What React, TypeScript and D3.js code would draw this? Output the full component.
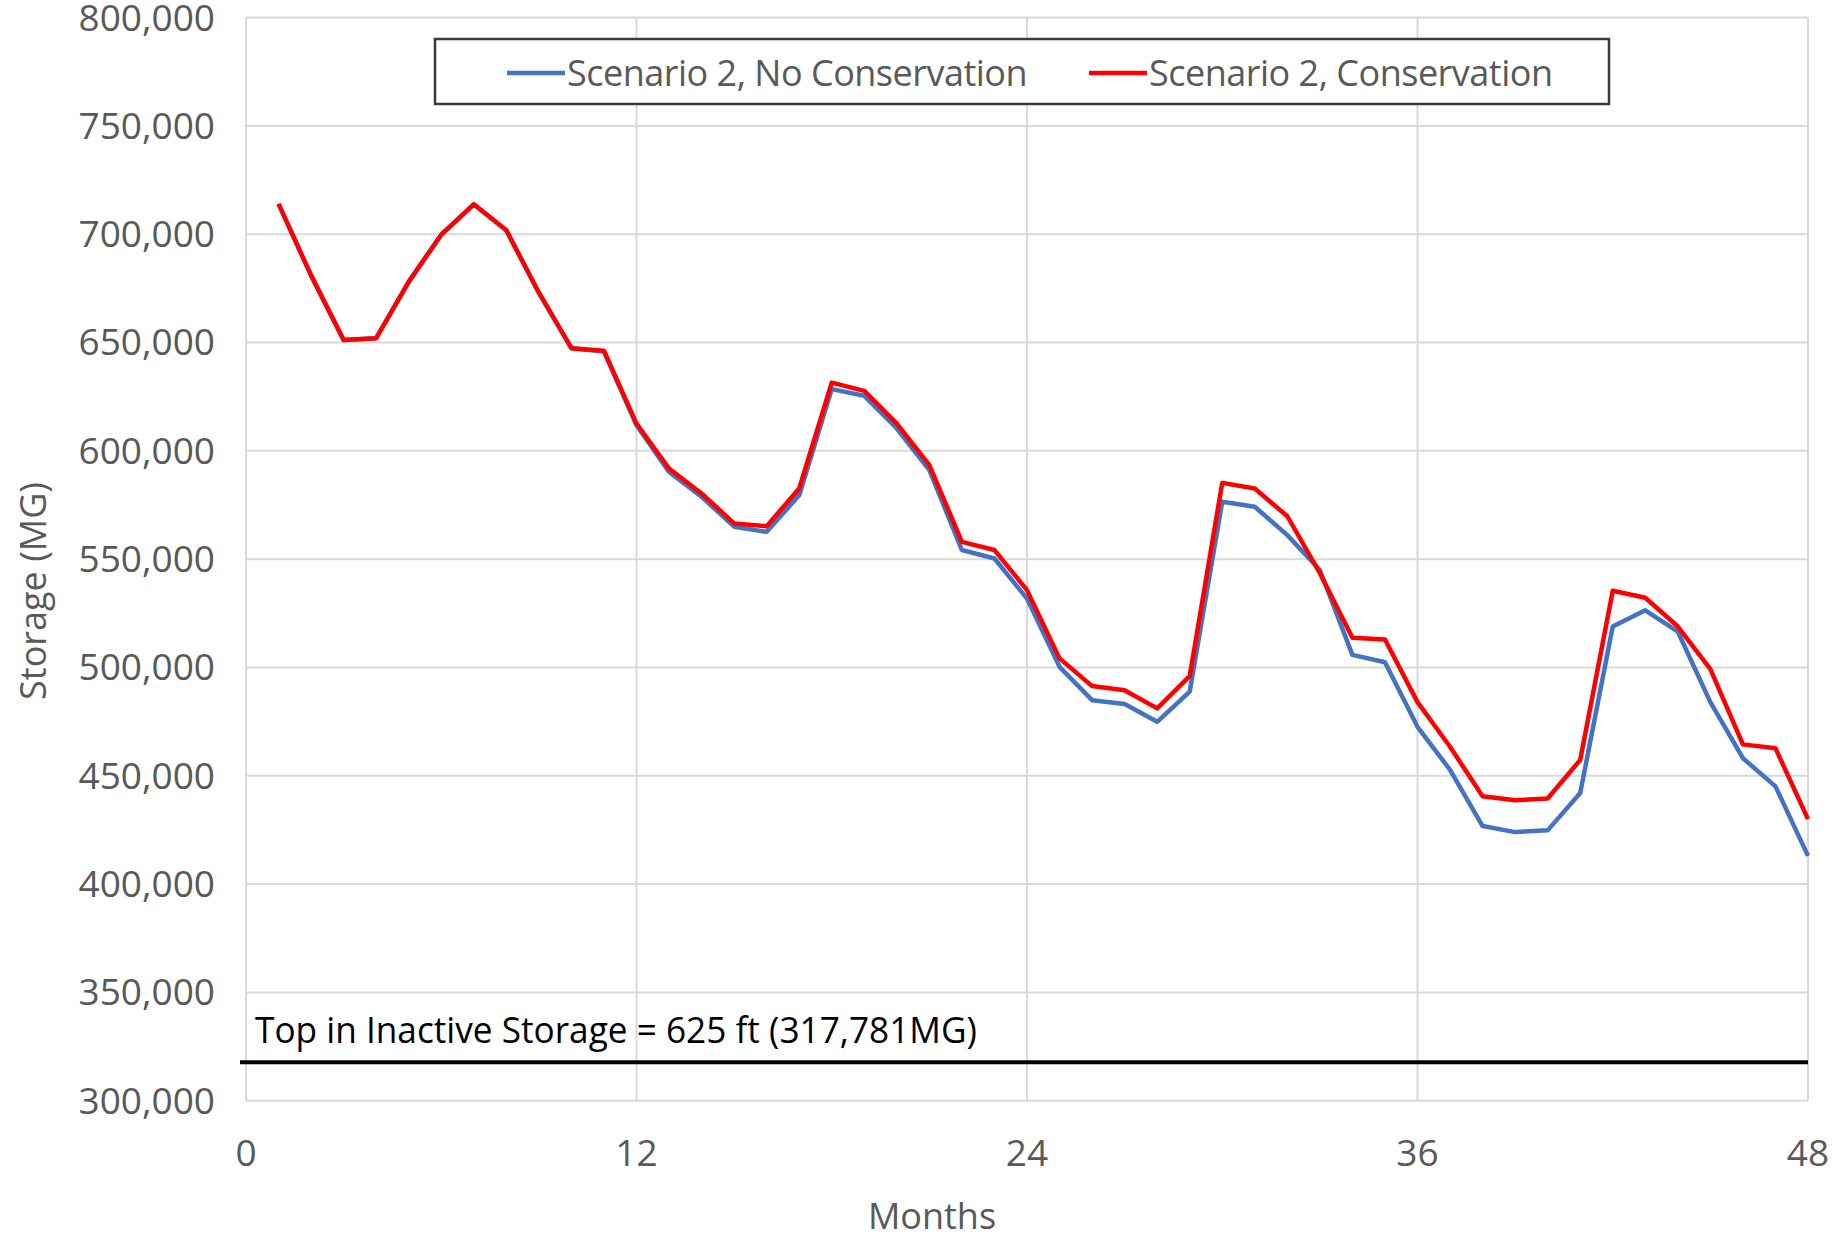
import React from "react";
import * as d3 from "d3";

const months: number[] = Array.from({ length: 48 }, (_, i) => i + 1);

const noConservation: number[] = [
  714000, 681000, 651200, 652000, 678000, 699800, 713800, 701800, 673000, 647400,
  645800, 611800, 590300, 578800, 565000, 562600, 579500, 628500, 625400, 610300,
  591100, 554200, 550300, 531800, 500300, 484900, 483100, 474900, 488800, 576500,
  574200, 561100, 545000, 505800, 502400, 472600, 452700, 426800, 424000, 424800,
  442000, 518900, 526400, 516500, 484000, 458100, 445100, 413000,
];

const conservation: number[] = [
  714000, 681000, 651200, 652000, 678000, 699800, 713800, 701800, 673000, 647400,
  646200, 612600, 591800, 580300, 566500, 565200, 582600, 631500, 627700, 612600,
  593400, 558000, 554200, 535700, 504200, 491400, 489500, 481100, 496000, 585200,
  582600, 569800, 543500, 513700, 512900, 484000, 463400, 440500, 438700, 439500,
  457300, 535400, 532200, 518900, 499200, 464500, 462700, 430000,
];

const xTicks: number[] = [0, 12, 24, 36, 48];
const yTicks: number[] = [300000, 350000, 400000, 450000, 500000, 550000, 600000, 650000, 700000, 750000, 800000];

const seriesNames: string[] = ["Scenario 2, No Conservation", "Scenario 2, Conservation"];
const seriesColors: string[] = ["#4472C4", "#FF0000"];

const inactiveStorage = 317781;
const inactiveLabel = "Top in Inactive Storage = 625 ft (317,781MG)";

const W = 1836;
const H = 1242;
const margin = { left: 246, right: 28, top: 17.6, bottom: 141.3 };

export default function App() {
  const x = d3.scaleLinear().domain([0, 48]).range([margin.left, W - margin.right]);
  const y = d3.scaleLinear().domain([300000, 800000]).range([H - margin.bottom, margin.top]);

  const line = d3
    .line<[number, number]>()
    .x((d) => x(d[0]))
    .y((d) => y(d[1]));

  const series = [noConservation, conservation].map((vals) =>
    months.map((m, i) => [m, vals[i]] as [number, number])
  );

  const fmt = d3.format(",");
  const gray = "#595959";
  const font = "'Open Sans', sans-serif";

  return (
    <svg
      width={W}
      height={H}
      style={{ position: "absolute", left: 0, top: 0, background: "#fff" }}
      fontFamily={font}
    >
      <rect x={0} y={0} width={W} height={H} fill="#fff" />
      {/* gridlines */}
      {yTicks.map((t) => (
        <line key={"gy" + t} x1={x(0)} x2={x(48)} y1={y(t)} y2={y(t)} stroke="#d9d9d9" strokeWidth={2} />
      ))}
      {xTicks.map((t) => (
        <line key={"gx" + t} x1={x(t)} x2={x(t)} y1={y(300000)} y2={y(800000)} stroke="#d9d9d9" strokeWidth={2} />
      ))}
      {/* y tick labels */}
      {yTicks.map((t) => (
        <text key={"ty" + t} x={x(0) - 31} y={y(t)} dy="0.35em" textAnchor="end" fontSize={37} fill={gray}>
          {fmt(t)}
        </text>
      ))}
      {/* x tick labels */}
      {xTicks.map((t) => (
        <text key={"tx" + t} x={x(t)} y={y(300000) + 52} dy="0.35em" textAnchor="middle" fontSize={37} fill={gray}>
          {t}
        </text>
      ))}
      {/* axis titles */}
      <text x={932} y={1216} dy="0.35em" textAnchor="middle" fontSize={36} fill={gray}>
        Months
      </text>
      <text
        transform={`translate(33,591) rotate(-90)`}
        dy="0.35em"
        textAnchor="middle"
        fontSize={36}
        fill={gray}
      >
        Storage (MG)
      </text>
      {/* inactive storage line */}
      <line
        x1={x(0) - 6}
        x2={x(48)}
        y1={y(inactiveStorage)}
        y2={y(inactiveStorage)}
        stroke="#000"
        strokeWidth={4}
      />
      <text x={x(0) + 9} y={y(inactiveStorage) - 19} fontSize={36} fill="#000" textLength={722} lengthAdjust="spacingAndGlyphs">
        {inactiveLabel}
      </text>
      {/* series */}
      {series.map((s, i) => (
        <path
          key={"s" + i}
          d={line(s) || ""}
          fill="none"
          stroke={seriesColors[i]}
          strokeWidth={4.5}
          strokeLinejoin="round"
        />
      ))}
      {/* legend */}
      <rect x={435} y={39} width={1174} height={65} fill="#fff" stroke="#3a3a3a" strokeWidth={2.5} />
      {[507, 1089].map((lx, i) => (
        <g key={"lg" + i}>
          <line x1={lx} x2={lx + 58} y1={73} y2={73} stroke={seriesColors[i]} strokeWidth={4.5} />
          <text x={lx + 60} y={73} dy="0.35em" fontSize={36} letterSpacing={-0.5} fill={gray}>
            {seriesNames[i]}
          </text>
        </g>
      ))}
    </svg>
  );
}
